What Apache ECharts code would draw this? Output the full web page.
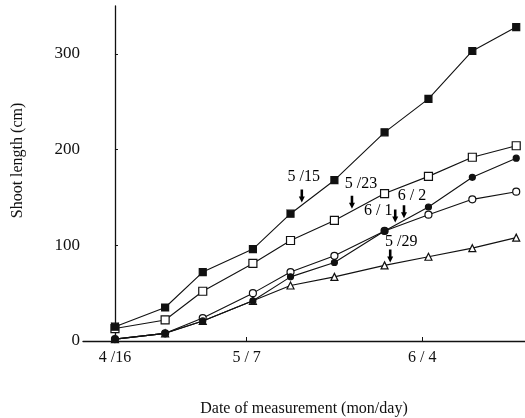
<!DOCTYPE html>
<html><head><meta charset="utf-8">
<script src="https://cdn.jsdelivr.net/npm/echarts@6/dist/echarts.min.js"></script>
<style>html,body{margin:0;padding:0;background:#fff}#c{width:525px;height:418px}</style>
</head><body><div id="c"></div>
<script>
// days since 4/16
const days = [0, 8, 14, 22, 28, 35, 43, 50, 57, 64];
const tickDays = [0, 21, 49];
const tickLabels = ['4 /16', '5 / 7', '6 / 4'];
const yTicks = [0, 100, 200, 300];
const seriesNames = ['asterisk', 'openSquare', 'filledCircle', 'openCircle', 'triangle'];
const asterisk = [15, 35, 72, 96, 133, 168, 218, 253, 303, 328];
const openSquare = [13, 22, 52, 81, 105, 126, 154, 172, 192, 204];
const filledCircle = [2, 8, 21, 42, 67, 82, 115, 140, 171, 191];
const openCircle = [2, 8, 24, 50, 72, 89, 115, 132, 148, 156];
const triangle = [2, 8, 21, 42, 58, 67, 79, 88, 97, 108];
// annotation arrows: [day, value] of arrow centre
const annotTexts = ['5 /15', '5 /23', '6 / 2', '6 / 1', '5 /29'];
const annotDays = [29.8, 37.8, 46.1, 44.7, 43.9];
const annotValues = [151.5, 145, 135, 130.6, 88.8];

const FONT = '"Liberation Serif","DejaVu Serif",serif';
const labelOffsets = [[2, -19], [9, -18], [8, -16], [-17, -5], [11, -14]];

function pts(arr) { return days.map((d, i) => [d, arr[i]]); }
const styles = {
  asterisk: { symbol: 'path://M0,0 L10,0 L10,10 L0,10 Z M2,2 L5,4 L8,2 L6,5 L8,8 L5,6 L2,8 L4,5 Z', size: 7, fill: '#111' },
  openSquare: { symbol: 'rect', size: 8, fill: '#fff' },
  filledCircle: { symbol: 'circle', size: 6, fill: '#111' },
  openCircle: { symbol: 'circle', size: 7, fill: '#fff' },
  triangle: { symbol: 'triangle', size: 7, fill: '#fff' }
};
const dataMap = { asterisk, openSquare, filledCircle, openCircle, triangle };
const drawOrder = ['triangle', 'openCircle', 'filledCircle', 'openSquare', 'asterisk'];
const series = drawOrder.map(n => ({
  name: n, type: 'line', data: pts(dataMap[n]),
  symbol: styles[n].symbol, symbolSize: styles[n].size, showAllSymbol: true,
  itemStyle: { color: styles[n].fill, borderColor: '#111', borderWidth: 1.2 },
  lineStyle: { color: '#111', width: 1.1 },
  emphasis: { disabled: true }, silent: true, z: 2
}));
series.push({
  name: 'annotations', type: 'scatter',
  symbol: 'path://M2,0 L5,0 L5,7 L7,7 L3.5,13 L0,7 L2,7 Z', symbolSize: [6, 13],
  itemStyle: { color: '#000', opacity: 1 }, silent: true, z: 3,
  data: annotTexts.map((t, i) => ({
    value: [annotDays[i], annotValues[i]],
    label: { show: true, formatter: t, position: 'inside', offset: labelOffsets[i],
      color: '#000', opacity: 1, fontFamily: FONT, fontSize: 16 }
  }))
});

const chart = echarts.init(document.getElementById('c'));
chart.setOption({
  animation: false,
  backgroundColor: '#fff',
  grid: { left: 83, right: 0, top: 6, bottom: 77, containLabel: false, outerBoundsMode: 'none' },
  xAxis: {
    type: 'value', min: -5.1, max: 65.4,
    name: 'Date of measurement (mon/day)', nameLocation: 'middle', nameGap: 60,
    nameTextStyle: { color: '#111', fontFamily: FONT, fontSize: 16 },
    axisLine: { lineStyle: { color: '#111', width: 1.3 } },
    axisTick: { inside: true, length: 4, customValues: tickDays, lineStyle: { color: '#111' } },
    axisLabel: { customValues: tickDays, formatter: v => tickLabels[tickDays.indexOf(v)] || '',
      color: '#111', fontFamily: FONT, fontSize: 16, margin: 9 },
    splitLine: { show: false }
  },
  yAxis: {
    type: 'value', min: 0, max: 350,
    name: 'Shoot length (cm)', nameLocation: 'middle', nameGap: 57,
    nameTextStyle: { color: '#111', fontFamily: FONT, fontSize: 16, padding: [0, 0, 0, 26] },
    axisLine: { show: true, lineStyle: { color: '#111', width: 1.3 } },
    axisTick: { show: true, inside: true, length: 3, customValues: yTicks, lineStyle: { color: '#111' } },
    axisLabel: { customValues: yTicks, color: '#111', fontFamily: FONT, fontSize: 17, margin: 3 },
    splitLine: { show: false }
  },
  series
});
</script></body></html>
